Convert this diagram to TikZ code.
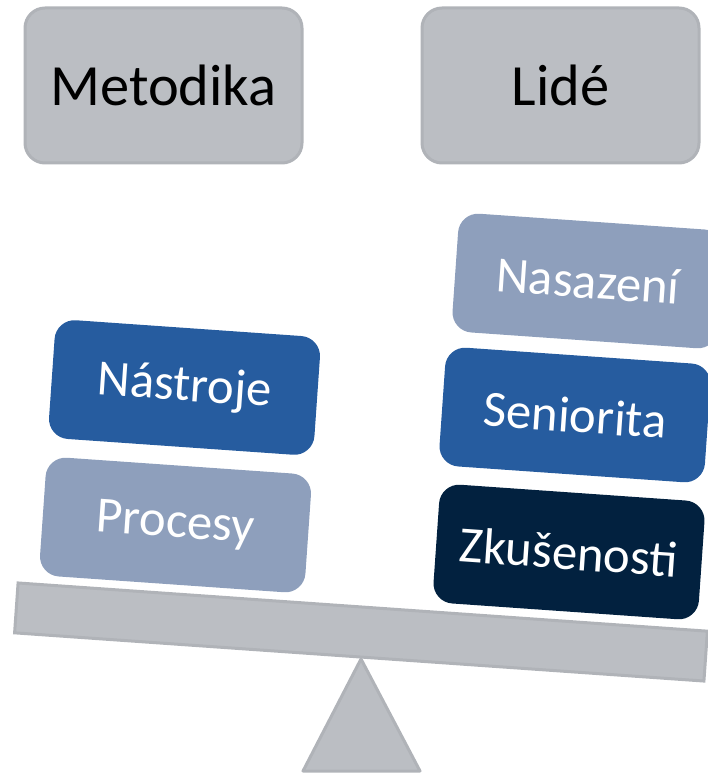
\documentclass[tikz,border=0pt]{standalone}
\usepackage{fontspec}
\setmainfont{Carlito}
\definecolor{scalegray}{HTML}{BBBEC3}
\definecolor{scaleline}{HTML}{B0B3B8}
\definecolor{midblue}{HTML}{265C9F}
\definecolor{paleblue}{HTML}{8E9FBC}
\definecolor{navy}{HTML}{02213F}
\begin{document}
\begin{tikzpicture}[x=0.5pt, y=-0.5pt, inner sep=0pt,
    head/.style={draw=scaleline, line width=1.5pt, fill=scalegray, rounded corners=10pt,
      minimum width=138.5pt, minimum height=77.5pt, font=\fontsize{29.2}{35}\selectfont},
    weight/.style={rounded corners=10pt, minimum width=133pt, minimum height=59.5pt,
      rotate=-4, text=white, font=\fontsize{25.4}{30}\selectfont}]
      \useasboundingbox (0,0) rectangle (707,774);

      \node[head] (metodika) at (163.5,85.5) {Metodika};
      \node[head] (lide) at (560.5,85.5) {Lidé};

      % podstavec a rameno vah
      \coordinate (apex) at (361,659);
      \draw[draw=scaleline, line width=1.5pt, fill=scalegray, line join=round] (apex) -- (420,771) -- (303,771) -- cycle;
      \node[draw=scaleline, line width=1.5pt, fill=scalegray, minimum width=345.5pt, minimum height=25pt, rotate=-4] (beam) at (361,632) {};

      \node[weight, fill=paleblue] (procesy) at (175.5,525) {Procesy};
      \node[weight, fill=midblue] (nastroje) at (184.5,387.5) {Nástroje};

      \node[weight, fill=navy] (zkusenosti) at (569,552) {Zkušenosti};
      \node[weight, fill=midblue] (seniorita) at (575,415) {Seniorita};
      \node[weight, fill=paleblue] (nasazeni) at (588,281) {Nasazení};
    \end{tikzpicture}
\end{document}
